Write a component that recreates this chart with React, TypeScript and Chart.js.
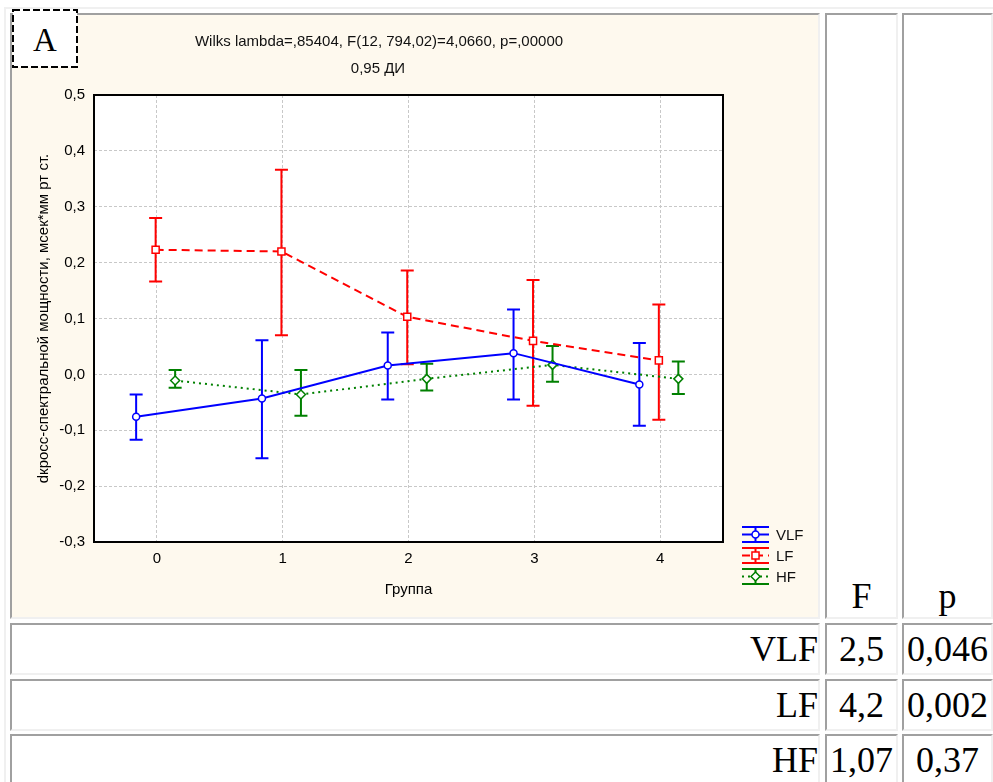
import React, { useEffect, useRef } from 'react';
import { Chart, registerables } from 'chart.js';

Chart.register(...registerables);

// ---- data ----
const groups = [0, 1, 2, 3, 4];
const vlfMean = [-0.076, -0.043, 0.016, 0.038, -0.018];
const vlfUpper = [-0.036, 0.061, 0.075, 0.116, 0.056];
const vlfLower = [-0.117, -0.150, -0.045, -0.045, -0.092];
const lfMean = [0.223, 0.220, 0.103, 0.060, 0.025];
const lfUpper = [0.280, 0.366, 0.186, 0.169, 0.125];
const lfLower = [0.166, 0.070, 0.018, -0.056, -0.081];
const hfMean = [-0.011, -0.036, -0.008, 0.017, -0.008];
const hfUpper = [0.008, 0.008, 0.019, 0.051, 0.023];
const hfLower = [-0.024, -0.074, -0.029, -0.013, -0.035];

const titleLine1 = 'Wilks lambda=,85404, F(12, 794,02)=4,0660, p=,00000';
const titleLine2 = '0,95 ДИ';
const yTitle = 'dкросс-спектральной мощности, мсек*мм рт ст.';
const xTitle = 'Группа';

const tableRows = ['VLF', 'LF', 'HF'];
const fValues = ['2,5', '4,2', '1,07'];
const pValues = ['0,046', '0,002', '0,37'];

const SANS = '"Liberation Sans", Arial, sans-serif';
const SERIF = '"Liberation Serif", "Times New Roman", serif';

type Series = {
  label: string; means: number[]; upper: number[]; lower: number[];
  offset: number; color: string; dash: number[]; marker: 'circle' | 'rect' | 'rectRot'; radius: number;
};

const series: Series[] = [
  { label: 'VLF', means: vlfMean, upper: vlfUpper, lower: vlfLower, offset: -0.165, color: '#0000ff', dash: [], marker: 'circle', radius: 3.5 },
  { label: 'LF', means: lfMean, upper: lfUpper, lower: lfLower, offset: -0.01, color: '#ff0000', dash: [8, 5], marker: 'rect', radius: 5 },
  { label: 'HF', means: hfMean, upper: hfUpper, lower: hfLower, offset: 0.145, color: '#008000', dash: [2, 4], marker: 'rectRot', radius: 4.5 },
];

function drawMarker(ctx: CanvasRenderingContext2D, kind: string, x: number, y: number, r: number, color: string) {
  ctx.save();
  ctx.setLineDash([]);
  ctx.fillStyle = '#fff';
  ctx.strokeStyle = color;
  ctx.lineWidth = 1.5;
  ctx.beginPath();
  if (kind === 'circle') {
    ctx.arc(x, y, r, 0, Math.PI * 2);
  } else if (kind === 'rect') {
    const s = r * Math.SQRT1_2;
    ctx.rect(x - s, y - s, 2 * s, 2 * s);
  } else {
    ctx.moveTo(x, y - r); ctx.lineTo(x + r, y); ctx.lineTo(x, y + r); ctx.lineTo(x - r, y); ctx.closePath();
  }
  ctx.fill();
  ctx.stroke();
  ctx.restore();
}

const plotFramePlugin = {
  id: 'plotFrame',
  beforeDraw(chart: any) {
    const { ctx, chartArea: a } = chart;
    ctx.save();
    ctx.fillStyle = '#ffffff';
    ctx.fillRect(a.left, a.top, a.right - a.left, a.bottom - a.top);
    ctx.restore();
  },
  afterDraw(chart: any) {
    const { ctx, chartArea: a } = chart;
    ctx.save();
    ctx.strokeStyle = '#000';
    ctx.lineWidth = 2;
    ctx.setLineDash([]);
    ctx.strokeRect(a.left, a.top, a.right - a.left, a.bottom - a.top);
    ctx.restore();
  },
};

const errorBarPlugin = {
  id: 'errorBars',
  beforeDatasetsDraw(chart: any) {
    const { ctx } = chart;
    const xs = chart.scales.x;
    const ys = chart.scales.y;
    series.forEach((s) => {
      ctx.save();
      ctx.strokeStyle = s.color;
      ctx.lineWidth = 2;
      ctx.setLineDash([]);
      groups.forEach((g, i) => {
        const px = xs.getPixelForValue(g + s.offset);
        const pt = ys.getPixelForValue(s.upper[i]);
        const pb = ys.getPixelForValue(s.lower[i]);
        ctx.beginPath();
        ctx.moveTo(px, pt); ctx.lineTo(px, pb);
        ctx.moveTo(px - 6.5, pt); ctx.lineTo(px + 6.5, pt);
        ctx.moveTo(px - 6.5, pb); ctx.lineTo(px + 6.5, pb);
        ctx.stroke();
      });
      ctx.restore();
    });
  },
};

const legendPlugin = {
  id: 'errLegend',
  afterDraw(chart: any) {
    const { ctx, chartArea: a } = chart;
    series.forEach((s, i) => {
      const x0 = a.right + 19;
      const x1 = x0 + 27;
      const xm = (x0 + x1) / 2;
      const yc = a.bottom - 7.5 + 21 * i;
      ctx.save();
      ctx.strokeStyle = s.color;
      ctx.lineWidth = 2;
      ctx.setLineDash([]);
      ctx.beginPath();
      ctx.moveTo(x0, yc - 7.5); ctx.lineTo(x1, yc - 7.5);
      ctx.moveTo(x0, yc + 7.5); ctx.lineTo(x1, yc + 7.5);
      ctx.moveTo(xm, yc - 7.5); ctx.lineTo(xm, yc + 7.5);
      ctx.stroke();
      ctx.setLineDash(s.dash);
      ctx.beginPath();
      ctx.moveTo(x0, yc); ctx.lineTo(x1, yc);
      ctx.stroke();
      ctx.restore();
      drawMarker(ctx, s.marker, xm, yc, s.radius, s.color);
      ctx.save();
      ctx.fillStyle = '#111';
      ctx.font = `15px ${SANS}`;
      ctx.textBaseline = 'middle';
      ctx.textAlign = 'left';
      ctx.fillText(s.label, x1 + 7, yc + 1);
      ctx.restore();
    });
  },
};

function ChartCanvas() {
  const ref = useRef<HTMLCanvasElement | null>(null);
  useEffect(() => {
    if (!ref.current) return;
    const chart = new Chart(ref.current, {
      type: 'line',
      data: {
        datasets: series.map((s) => ({
          label: s.label,
          data: groups.map((g, i) => ({ x: g + s.offset, y: s.means[i] })),
          borderColor: s.color,
          backgroundColor: '#fff',
          borderWidth: 2,
          borderDash: s.dash,
          pointStyle: s.marker,
          pointRadius: s.radius,
          pointBorderWidth: 1.5,
          pointBorderColor: s.color,
          pointBackgroundColor: '#fff',
          tension: 0,
          fill: false,
        })),
      },
      options: {
        animation: false,
        responsive: false,
        maintainAspectRatio: false,
        layout: { padding: { left: 0, top: 80, right: 95, bottom: 0 } },
        plugins: { legend: { display: false }, tooltip: { enabled: false }, title: { display: false } },
        scales: {
          x: {
            type: 'linear',
            min: -0.5,
            max: 4.5,
            afterBuildTicks: (scale: any) => { scale.ticks = groups.map((v) => ({ value: v })); },
            afterFit: (scale: any) => { scale.height = 75; },
            grid: { color: '#c8c8c8', lineWidth: 1, drawTicks: false },
            border: { display: false, dash: [3, 2] },
            ticks: { color: '#000', font: { family: SANS, size: 15 }, padding: 8, callback: (v: any) => String(v) },
            title: { display: true, text: xTitle, color: '#000', font: { family: SANS, size: 15 }, padding: { top: 0, bottom: 18 } },
          },
          y: {
            type: 'linear',
            min: -0.3,
            max: 0.5,
            afterFit: (scale: any) => { scale.width = 82; },
            grid: { color: '#c8c8c8', lineWidth: 1, drawTicks: false },
            border: { display: false, dash: [3, 2] },
            ticks: {
              stepSize: 0.1,
              color: '#000',
              font: { family: SANS, size: 15 },
              padding: 9,
              callback: (v: any) => (Math.abs(v) < 1e-9 ? '0,0' : Number(v).toFixed(1).replace('.', ',')),
            },
            title: { display: true, text: yTitle, color: '#000', font: { family: SANS, size: 15 }, padding: { top: 23, bottom: 0 } },
          },
        },
      } as any,
      plugins: [plotFramePlugin, errorBarPlugin, legendPlugin],
    });
    return () => chart.destroy();
  }, []);
  return <canvas ref={ref} width={806} height={602} style={{ position: 'absolute', left: 0, top: 0, width: 806, height: 602 }} />;
}

function Cell(props: { x: number; y: number; w: number; h: number; bg?: string; style?: React.CSSProperties; children?: React.ReactNode }) {
  const { x, y, w, h, bg = '#fff', style, children } = props;
  return (
    <div
      style={{
        position: 'absolute', left: x, top: y, width: w, height: h, boxSizing: 'border-box',
        borderTop: '2px solid #a0a0a0', borderLeft: '2px solid #a0a0a0',
        borderRight: '2px solid #f0f0f0', borderBottom: '2px solid #f0f0f0',
        background: bg, overflow: 'visible', ...style,
      }}
    >
      {children}
    </div>
  );
}

const serifText: React.CSSProperties = { fontFamily: SERIF, fontSize: 36, color: '#000', display: 'flex' };

export default function App() {
  const rowTops = [623, 679, 734];
  return (
    <div style={{ position: 'fixed', left: 0, top: 0, width: 993, height: 782, background: '#fff', overflow: 'hidden' }}>
      {/* outer table border */}
      <div style={{ position: 'absolute', left: 4, top: 7, width: 989, height: 2, background: '#f0f0f0' }} />
      <div style={{ position: 'absolute', left: 4, top: 7, width: 2, height: 775, background: '#f0f0f0' }} />

      <Cell x={10} y={13} w={810} h={606} bg="#fef9ee">
        <div style={{ position: 'absolute', left: 0, top: 0, width: 806, height: 602 }}>
          <ChartCanvas />
        </div>
      </Cell>
      <div style={{ position: 'absolute', left: 179, top: 32, width: 400, textAlign: 'center', fontFamily: SANS, fontSize: 15, lineHeight: '18px', color: '#111', whiteSpace: 'nowrap' }}>{titleLine1}</div>
      <div style={{ position: 'absolute', left: 278, top: 59, width: 200, textAlign: 'center', fontFamily: SANS, fontSize: 15, lineHeight: '18px', color: '#111' }}>{titleLine2}</div>

      {/* panel label */}
      <svg style={{ position: 'absolute', left: 12, top: 9 }} width={66} height={59}>
        <rect x={1} y={1} width={64} height={57} fill="#fff" stroke="#000" strokeWidth={2} strokeDasharray="7 3" />
        <text x={33} y={42} textAnchor="middle" fontFamily={SERIF} fontSize={33} fill="#000">A</text>
      </svg>

      <Cell x={825} y={13} w={73} h={606} style={{ ...serifText, alignItems: 'flex-end', justifyContent: 'center' }}>
        <span>F</span>
      </Cell>
      <Cell x={902} y={13} w={91} h={606} style={{ ...serifText, alignItems: 'flex-end', justifyContent: 'center' }}>
        <span>p</span>
      </Cell>

      {tableRows.map((r, i) => (
        <React.Fragment key={r}>
          <Cell x={10} y={rowTops[i]} w={810} h={52} style={{ ...serifText, alignItems: 'center', justifyContent: 'flex-end' }}>
            <span>{r}</span>
          </Cell>
          <Cell x={825} y={rowTops[i]} w={73} h={52} style={{ ...serifText, alignItems: 'center', justifyContent: 'center' }}>
            <span>{fValues[i]}</span>
          </Cell>
          <Cell x={902} y={rowTops[i]} w={91} h={52} style={{ ...serifText, alignItems: 'center', justifyContent: 'center' }}>
            <span>{pValues[i]}</span>
          </Cell>
        </React.Fragment>
      ))}
    </div>
  );
}
